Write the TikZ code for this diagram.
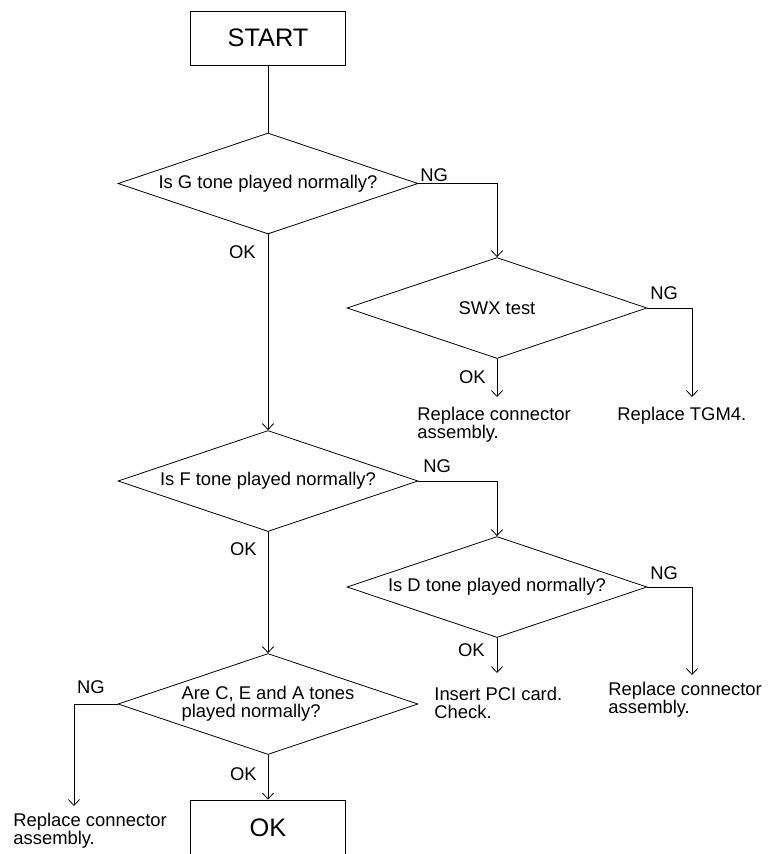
\documentclass[tikz,border=0pt]{standalone}
\usepackage{fontspec}
\setmainfont{Liberation Sans}
\usetikzlibrary{shapes.geometric,arrows.meta}

\newcommand{\txtfont}{\fontsize{13.8}{13.5}\selectfont}

\tikzset{
  decision/.style={draw, diamond, aspect=3, inner sep=0pt, minimum width=225pt, minimum height=75.75pt, align=center, font=\txtfont},
  termbox/.style={draw, rectangle, inner sep=0pt, minimum width=116.25pt, font=\fontsize{19}{22}\selectfont},
  action/.style={anchor=north west, inner sep=0pt, align=left, font=\txtfont},
  oklbl/.style={anchor=north east, inner sep=0pt, font=\txtfont},
  nglbl/.style={anchor=south west, inner sep=0pt, font=\txtfont},
}

\begin{document}
\begin{tikzpicture}[x=0.75pt, y=-0.75pt, line width=0.6pt, >={Straight Barb[length=4.5pt, width=8.5pt]}]
\path[use as bounding box, clip] (0,0) rectangle (779,854);

\node[termbox, minimum height=40.5pt] (start) at (268,38) {START};
\node[decision] (g) at (268,183.5) {Is G tone played normally?};
\node[decision] (swx) at (497,308) {SWX test};
\node[decision] (f) at (268,481) {Is F tone played normally?};
\node[decision] (d) at (497,587) {Is D tone played normally?};
\node[decision, align=left] (cea) at (268,704) {Are C, E and A tones\\played normally?};
\node[termbox, minimum height=42pt] (okbox) at (268,828) {OK};

\node[action] (swxok) at (417,407) {Replace connector\\assembly.};
\node[action] (tgm) at (617,407) {Replace TGM4.};
\node[action] (pci) at (434,687) {Insert PCI card.\\Check.};
\node[action] (dng) at (608,682) {Replace connector\\assembly.};
\node[action] (ceang) at (13,813) {Replace connector\\assembly.};

\coordinate (swxokend) at (497,397);
\coordinate (swxngend) at (692,397);
\coordinate (dokend) at (497,673);
\coordinate (dngend) at (692,675);
\coordinate (ceangend) at (74,806);

\draw (start) -- (g);
\draw [->] (g.south) -- (f.north);
\draw [->] (f.south) -- (cea.north);
\draw [->] (cea.south) -- (okbox.north);
\draw [->] (g.east) -| (swx.north);
\draw [->] (f.east) -| (d.north);
\draw [->] (swx.south) -- (swxokend);
\draw [->] (swx.east) -| (swxngend);
\draw [->] (d.south) -- (dokend);
\draw [->] (d.east) -| (dngend);
\draw [->] (cea.west) -| (ceangend);

\node[oklbl] (gok) at (256,245) {OK};
\node[oklbl] (swxoklbl) at (486,370) {OK};
\node[oklbl] (fok) at (257,542) {OK};
\node[oklbl] (doklbl) at (485,643) {OK};
\node[oklbl] (ceaok) at (257,767) {OK};

\node[nglbl] (gnglbl) at (420,182) {NG};
\node[nglbl] (swxnglbl) at (650,300) {NG};
\node[nglbl] (fnglbl) at (423,473) {NG};
\node[nglbl] (dnglbl) at (650,580) {NG};
\node[nglbl, anchor=south east] (ceanglbl) at (105,694) {NG};
\end{tikzpicture}
\end{document}
